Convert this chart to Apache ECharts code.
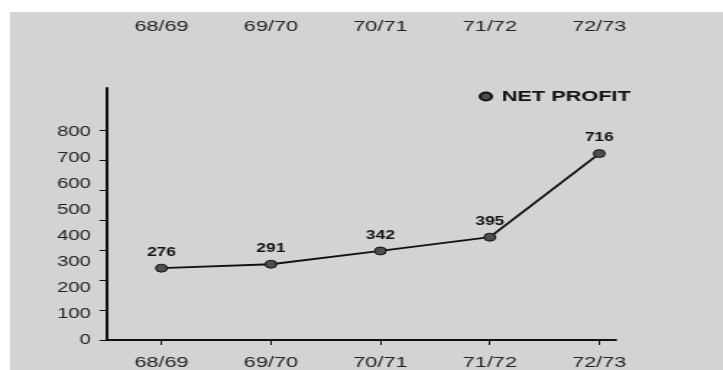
<!DOCTYPE html>
<html>
<head>
<meta charset="utf-8">
<script src="https://cdn.jsdelivr.net/npm/echarts@6/dist/echarts.min.js"></script>
<style>
  html, body { margin: 0; padding: 0; background: #ffffff; width: 723px; height: 370px; overflow: hidden; }
  #panel { position: absolute; left: 10px; top: 12px; right: 0; bottom: 0; background: #d3d3d3; }
  /* the chart is laid out narrow and stretched horizontally */
  #chart { position: absolute; left: 0; top: 0; width: 500px; height: 370px; transform: scaleX(1.446); transform-origin: 0 0; }
</style>
</head>
<body>
<div id="panel"></div>
<div id="chart"></div>
<script>
// Fiscal years
const years = ['68/69', '69/70', '70/71', '71/72', '72/73'];
// Net profit per year
const netProfit = [276, 291, 342, 395, 716];
// Value-axis labels
const yLabels = [0, 100, 200, 300, 400, 500, 600, 700, 800];
// Tick marks on the value axis
const yTicks = [0, 115, 230, 345, 460, 575, 690, 805];
const seriesName = 'NET PROFIT';

const font = 'Liberation Sans, Arial, Helvetica, sans-serif';
const yearIndex = years.map((_, i) => i);
const points = netProfit.map((v, i) => [i, v]);

const chart = echarts.init(document.getElementById('chart'), null, { renderer: 'canvas', width: 500, height: 370 });

chart.setOption({
  backgroundColor: 'transparent',
  animation: false,
  grid: { left: 73.8, width: 352, top: 88, bottom: 25, containLabel: false },
  legend: {
    left: 326, top: 84,
    itemWidth: 8, itemHeight: 8,
    icon: 'circle',
    textStyle: { fontFamily: font, fontSize: 15, fontWeight: 'bold', color: '#111', padding: [0, 0, 0, 2] },
    data: [seriesName]
  },
  xAxis: [
    {
      type: 'value', position: 'bottom', min: -0.5, max: 4.15,
      splitLine: { show: false },
      axisLine: { show: true, onZero: false, lineStyle: { color: '#111', width: 2 } },
      axisTick: { show: true, customValues: yearIndex, length: 5, lineStyle: { color: '#111', width: 1 } },
      axisLabel: {
        show: true, customValues: yearIndex, margin: 15,
        fontFamily: font, fontSize: 15, color: '#222',
        formatter: v => years[Math.round(v)] || ''
      }
    },
    {
      type: 'value', position: 'top', min: -0.5, max: 4.15, offset: 46,
      splitLine: { show: false },
      axisLine: { show: false },
      axisTick: { show: false },
      axisLabel: {
        show: true, customValues: yearIndex, margin: 8,
        fontFamily: font, fontSize: 15, color: '#222',
        formatter: v => years[Math.round(v)] || ''
      }
    }
  ],
  yAxis: {
    type: 'value', min: 0, max: 968,
    splitLine: { show: false },
    axisLine: { show: true, onZero: false, lineStyle: { color: '#111', width: 2 } },
    axisTick: { show: true, customValues: yTicks, length: 5, lineStyle: { color: '#111', width: 1 } },
    axisLabel: {
      show: true, customValues: yLabels, margin: 11,
      fontFamily: font, fontSize: 14, color: '#222'
    }
  },
  series: [{
    name: seriesName,
    type: 'line',
    xAxisIndex: 0,
    data: points,
    symbol: 'circle',
    symbolSize: 8,
    lineStyle: { color: '#111', width: 1.8 },
    itemStyle: { color: '#4d4d4d', borderColor: '#111', borderWidth: 1 },
    label: {
      show: true, position: 'top', distance: 5,
      fontFamily: font, fontSize: 12, fontWeight: 'bold', color: '#111',
      formatter: p => p.value[1]
    }
  }]
});
</script>
</body>
</html>
